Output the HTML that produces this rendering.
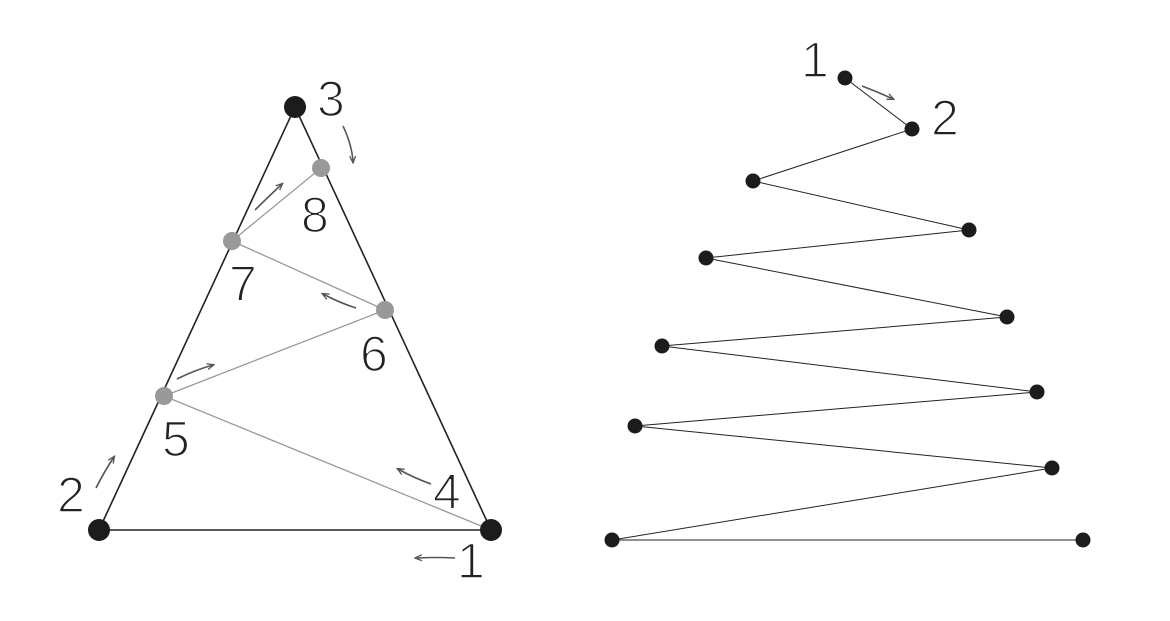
<!DOCTYPE html>
<html><head><meta charset="utf-8"><style>html,body{margin:0;padding:0;background:#fff;}svg{display:block}</style></head>
<body>
<svg width="1170" height="621" viewBox="0 0 1170 621" xmlns="http://www.w3.org/2000/svg">
<defs><marker id="a" markerWidth="8" markerHeight="8" refX="6" refY="4" orient="auto" markerUnits="userSpaceOnUse"><path d="M0,1 L7,4 L0,7" fill="none" stroke="#555" stroke-width="1.3"/></marker></defs>
<g fill="none" stroke="#222" stroke-width="1.6">
<path d="M99,530 L491,530 L295,107 Z"/>
</g>
<g fill="none" stroke="#999" stroke-width="1.3">
<path d="M491,530 L164,396 L385,310 L232,241 L321,168"/>
</g>
<g fill="#1c1c1c"><circle cx="99" cy="530" r="11"/><circle cx="491" cy="530" r="11"/><circle cx="295" cy="107" r="11"/></g>
<g fill="#999"><circle cx="321" cy="168" r="9"/><circle cx="232" cy="241" r="9"/><circle cx="385" cy="310" r="9"/><circle cx="164" cy="396" r="9"/></g>
<g stroke="#555" stroke-width="1.6" fill="none" marker-end="url(#a)">
<path d="M455,558 Q438,557 416,558"/>
<path d="M96,488 Q104,472 114,457"/>
<path d="M343,126 Q352,145 353,162"/>
<path d="M431,484 Q414,478 398,469"/>
<path d="M356,308 Q340,303 323,294"/>
<path d="M177,379 Q195,370 213,365"/>
<path d="M255,210 Q268,197 282,184"/>
<path d="M862,86 Q878,92 893,99"/>
</g>
<g font-family="'Liberation Sans', sans-serif" font-size="50" fill="#222" stroke="#fff" stroke-width="1.6">
<text x="317" y="116">3</text>
<text x="301" y="232">8</text>
<text x="229" y="301">7</text>
<text x="360" y="371">6</text>
<text x="162" y="456">5</text>
<text x="433" y="509">4</text>
<text x="57" y="512">2</text>
<text x="457" y="578">1</text>
<text x="801" y="77">1</text>
<text x="931" y="135">2</text>
</g>
<path d="M845,78 L912,129 L753,181 L969,230 L706,258 L1007,317 L662,346 L1037,392 L635,426 L1052,468 L612,540 L1083,540" fill="none" stroke="#222" stroke-width="1"/>
<g fill="#1c1c1c">
<circle cx="845" cy="78" r="7.5"/><circle cx="912" cy="129" r="7.5"/><circle cx="753" cy="181" r="7.5"/><circle cx="969" cy="230" r="7.5"/><circle cx="706" cy="258" r="7.5"/><circle cx="1007" cy="317" r="7.5"/><circle cx="662" cy="346" r="7.5"/><circle cx="1037" cy="392" r="7.5"/><circle cx="635" cy="426" r="7.5"/><circle cx="1052" cy="468" r="7.5"/><circle cx="612" cy="540" r="7.5"/><circle cx="1083" cy="540" r="7.5"/>
</g>
</svg>
</body></html>
